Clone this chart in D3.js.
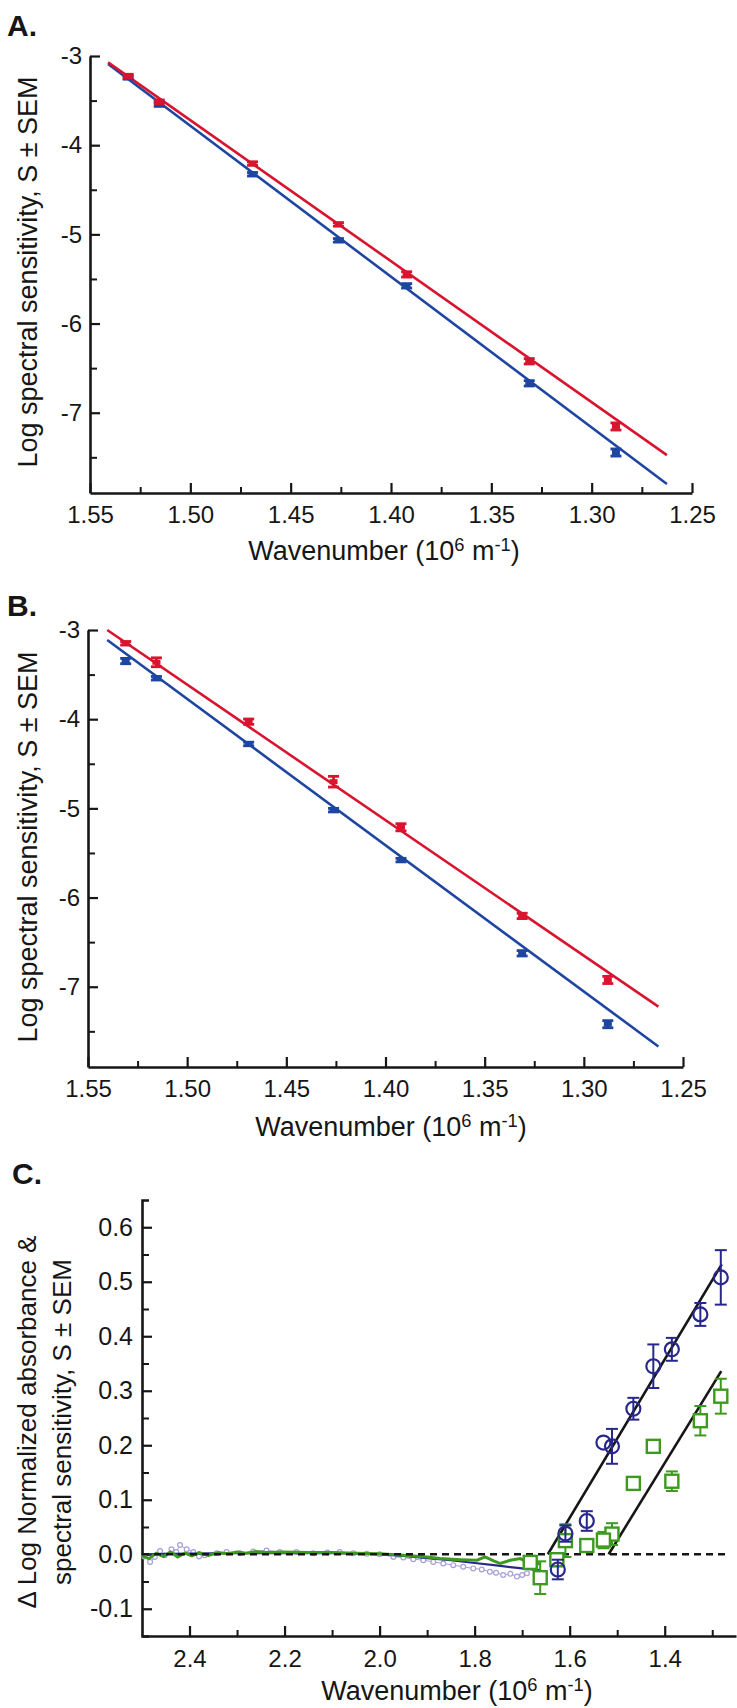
<!DOCTYPE html>
<html>
<head>
<meta charset="utf-8">
<script src="https://cdn.jsdelivr.net/npm/d3@7"></script>
<style>
  body { margin: 0; background: #fff; }
  svg { display: block; font-family: "Liberation Sans", Arial, sans-serif; }
</style>
</head>
<body>
<svg id="fig" width="737" height="1708"></svg>
<script>
// ---- panel A / B data (wavenumber in 10^6 m^-1, log sensitivity) ----
var wnAB = [1.531, 1.5155, 1.469, 1.4262, 1.3922, 1.3311, 1.2879];

var aRed     = [-3.225, -3.513, -4.206, -4.888, -5.449, -6.423, -7.154];
var aRedErr  = [0.02, 0.02, 0.02, 0.02, 0.03, 0.03, 0.04];
var aBlue    = [-3.24, -3.54, -4.326, -5.067, -5.577, -6.67, -7.446];
var aBlueErr = [0.02, 0.025, 0.02, 0.02, 0.025, 0.03, 0.04];
var aRedFit  = [[1.541, -3.071], [1.2625, -7.475]];
var aBlueFit = [[1.541, -3.09], [1.2625, -7.80]];

var bRed     = [-3.149, -3.362, -4.028, -4.701, -5.212, -6.206, -6.924];
var bRedErr  = [0.02, 0.05, 0.03, 0.06, 0.04, 0.03, 0.04];
var bBlue    = [-3.348, -3.541, -4.278, -5.02, -5.58, -6.625, -7.42];
var bBlueErr = [0.03, 0.02, 0.02, 0.02, 0.02, 0.03, 0.04];
var bRedFit  = [[1.5403, -3.0], [1.2624, -7.223]];
var bBlueFit = [[1.5403, -3.112], [1.2624, -7.67]];

var abMajor = [1.55, 1.50, 1.45, 1.40, 1.35, 1.30, 1.25];
var abMinor = [1.525, 1.475, 1.425, 1.375, 1.325, 1.275];
var abYMajor = [-3, -4, -5, -6, -7];
var abYMinor = [-3.5, -4.5, -5.5, -6.5, -7.5];

// ---- panel C data ----
var cCircWn  = [1.282, 1.325, 1.385, 1.424, 1.466, 1.529, 1.511, 1.564, 1.609, 1.625];
var cCirc    = [0.508, 0.440, 0.376, 0.345, 0.267, 0.205, 0.198, 0.061, 0.038, -0.028];
var cCircErr = [0.05, 0.021, 0.021, 0.04, 0.02, 0.0, 0.032, 0.018, 0.015, 0.018];

var cSqWn  = [1.282, 1.325, 1.385, 1.424, 1.466, 1.511, 1.529, 1.564, 1.609, 1.627, 1.662, 1.683];
var cSq    = [0.290, 0.245, 0.134, 0.198, 0.130, 0.037, 0.026, 0.016, 0.025, -0.010, -0.043, -0.015];
var cSqErr = [0.032, 0.027, 0.018, 0.01, 0.006, 0.02, 0.015, 0.01, 0.03, 0.012, 0.03, 0.012];

var cFit1 = [[1.646, 0.0], [1.280, 0.532]];
var cFit2 = [[1.518, 0.0], [1.281, 0.336]];
var cZero = [[2.5, 0], [1.27, 0]];

var cBlueLineWn = [2.5, 2.4, 2.3, 2.2, 2.1, 2.0, 1.95, 1.9, 1.85, 1.8, 1.75, 1.70, 1.662];
var cBlueLine   = [0.0, 0.001, 0.002, 0.002, 0.002, 0.0, -0.003, -0.007, -0.011, -0.016, -0.021, -0.026, -0.029];

var cGreenLineWn = [2.5, 2.485, 2.47, 2.455, 2.44, 2.425, 2.41, 2.395, 2.38, 2.36, 2.34, 2.32, 2.30, 2.28, 2.26, 2.24, 2.2, 2.15, 2.1, 2.05, 2.0, 1.95, 1.9, 1.873, 1.83, 1.795, 1.778, 1.76, 1.746, 1.725, 1.704, 1.69, 1.662];
var cGreenLine   = [-0.003, -0.008, 0.002, -0.004, 0.004, -0.005, 0.002, -0.003, 0.003, -0.002, 0.003, 0.001, 0.004, 0.002, 0.005, 0.003, 0.004, 0.003, 0.003, 0.002, 0.001, -0.002, -0.005, -0.008, -0.01, -0.011, -0.005, -0.012, -0.017, -0.011, -0.008, -0.014, -0.018];

var cPurpleWn = [2.495, 2.483, 2.473, 2.462, 2.452, 2.438, 2.428, 2.42, 2.406, 2.392, 2.38, 2.368, 2.343, 2.322, 2.294, 2.266, 2.238, 2.21, 2.175, 2.14, 2.11, 2.084, 2.055, 2.027, 2.0, 1.971, 1.95, 1.929, 1.908, 1.887, 1.866, 1.845, 1.824, 1.803, 1.785, 1.768, 1.755, 1.74, 1.725, 1.711, 1.70, 1.69];
var cPurple   = [-0.004, -0.014, -0.005, 0.006, -0.002, 0.009, 0.004, 0.017, 0.009, 0.004, -0.004, -0.002, 0.002, 0.004, 0.002, 0.005, 0.007, 0.004, 0.004, 0.002, 0.003, 0.004, 0.002, 0.001, 0.0, -0.005, -0.006, -0.009, -0.011, -0.014, -0.017, -0.02, -0.023, -0.026, -0.028, -0.032, -0.034, -0.038, -0.036, -0.041, -0.038, -0.035];

var cXMajor = [2.4, 2.2, 2.0, 1.8, 1.6, 1.4];
var cXMinor = [2.3, 2.1, 1.9, 1.7, 1.5, 1.3];
var cYMajor = [0.6, 0.5, 0.4, 0.3, 0.2, 0.1, 0.0, -0.1];
var cYMinor = [0.55, 0.45, 0.35, 0.25, 0.15, 0.05, -0.05];

var RED = "#d8142e", BLUE = "#1e46a0", INK = "#161616";
var NAVY = "#28288c", GREEN = "#3d9a1f", PURPLE = "#a99ed8";

var svg = d3.select("#fig");
svg.append("rect").attr("width", 737).attr("height", 1708).attr("fill", "#fff");

function styleAxis(g, fs) {
  g.selectAll("path.domain").attr("stroke", INK).attr("stroke-width", 2.6);
  g.selectAll(".tick line").attr("stroke", INK).attr("stroke-width", 2.2);
  g.selectAll(".tick text").attr("fill", INK).attr("font-size", fs);
}

function wavLabel(g, x, y, fs) {
  var t = g.append("text").attr("x", x).attr("y", y).attr("text-anchor", "middle")
    .attr("font-size", fs).attr("fill", INK);
  t.append("tspan").text("Wavenumber (10");
  t.append("tspan").attr("dy", -9).attr("font-size", fs * 0.68).text("6");
  t.append("tspan").attr("dy", 9).text(" m");
  t.append("tspan").attr("dy", -9).attr("font-size", fs * 0.68).text("-1");
  t.append("tspan").attr("dy", 9).text(")");
}

function errBars(g, pts, color, cap, sw) {
  var s = g.selectAll(null).data(pts).enter().append("g");
  s.append("line").attr("x1", d => d.x).attr("x2", d => d.x)
    .attr("y1", d => d.y0).attr("y2", d => d.y1)
    .attr("stroke", color).attr("stroke-width", sw);
  s.append("line").attr("x1", d => d.x - cap).attr("x2", d => d.x + cap)
    .attr("y1", d => d.y0).attr("y2", d => d.y0).attr("stroke", color).attr("stroke-width", sw);
  s.append("line").attr("x1", d => d.x - cap).attr("x2", d => d.x + cap)
    .attr("y1", d => d.y1).attr("y2", d => d.y1).attr("stroke", color).attr("stroke-width", sw);
}

function drawAB(cfg) {
  var g = svg.append("g");
  var x = d3.scaleLinear().domain([1.55, 1.25]).range([cfg.x0, cfg.x1]);
  var y = d3.scaleLinear().domain([-7.9, -3]).range([cfg.yBot, cfg.yTop]);

  // axes
  var gx = g.append("g").attr("transform", "translate(0," + cfg.yBot + ")")
    .call(d3.axisBottom(x).tickValues(abMajor).tickSizeInner(-10).tickSizeOuter(0)
      .tickPadding(13).tickFormat(d => d.toFixed(2)));
  g.append("g").attr("transform", "translate(0," + cfg.yBot + ")")
    .call(d3.axisBottom(x).tickValues(abMinor).tickSizeInner(-6).tickSizeOuter(0).tickFormat(""))
    .call(a => a.select(".domain").remove())
    .selectAll("line").attr("stroke", INK).attr("stroke-width", 2);
  var gy = g.append("g").attr("transform", "translate(" + cfg.x0 + ",0)")
    .call(d3.axisLeft(y).tickValues(abYMajor).tickSizeInner(-10).tickSizeOuter(0)
      .tickPadding(8).tickFormat(d => d.toFixed(0)));
  g.append("g").attr("transform", "translate(" + cfg.x0 + ",0)")
    .call(d3.axisLeft(y).tickValues(abYMinor).tickSizeInner(-7).tickSizeOuter(0).tickFormat(""))
    .call(a => a.select(".domain").remove())
    .selectAll("line").attr("stroke", INK).attr("stroke-width", 2);
  styleAxis(gx, 24);
  styleAxis(gy, 24);

  // fitted lines
  var line = d3.line().x(d => x(d[0])).y(d => y(d[1]));
  g.append("path").attr("d", line(cfg.blueFit)).attr("fill", "none")
    .attr("stroke", BLUE).attr("stroke-width", 2.6);
  g.append("path").attr("d", line(cfg.redFit)).attr("fill", "none")
    .attr("stroke", RED).attr("stroke-width", 2.6);

  // points with SEM
  [[cfg.blue, cfg.blueErr, BLUE], [cfg.red, cfg.redErr, RED]].forEach(function (s) {
    var pts = wnAB.map((w, i) => ({ x: x(w), y: y(s[0][i]), y0: y(s[0][i] + s[1][i]), y1: y(s[0][i] - s[1][i]) }));
    errBars(g, pts, s[2], 5.5, 2.8);
    g.selectAll(null).data(pts).enter().append("rect")
      .attr("x", d => d.x - 4).attr("y", d => d.y - 2.5).attr("width", 8).attr("height", 5)
      .attr("fill", s[2]);
  });

  // labels
  g.append("text").attr("x", 7).attr("y", cfg.letterY).attr("font-size", 30)
    .attr("font-weight", "bold").attr("fill", INK).text(cfg.letter);
  g.append("text").attr("transform", "translate(" + 37 + "," + cfg.ylabY + ") rotate(-90)")
    .attr("text-anchor", "middle").attr("font-size", 27).attr("fill", INK)
    .text("Log spectral sensitivity, S \u00b1 SEM");
  wavLabel(g, cfg.xlabX, cfg.xlabY, 27);
}

drawAB({ letter: "A.", letterY: 36, x0: 90, x1: 692, yTop: 56, yBot: 493,
  red: aRed, redErr: aRedErr, blue: aBlue, blueErr: aBlueErr,
  redFit: aRedFit, blueFit: aBlueFit, ylabY: 272, xlabX: 384, xlabY: 560 });
drawAB({ letter: "B.", letterY: 616, x0: 88, x1: 683, yTop: 630, yBot: 1067,
  red: bRed, redErr: bRedErr, blue: bBlue, blueErr: bBlueErr,
  redFit: bRedFit, blueFit: bBlueFit, ylabY: 847, xlabX: 391, xlabY: 1136 });

// ---- panel C ----
(function () {
  var g = svg.append("g");
  var x = d3.scaleLinear().domain([2.5, 1.25]).range([142, 736]);
  var y = d3.scaleLinear().domain([-0.15, 0.65]).range([1636, 1200]);

  var gx = g.append("g").attr("transform", "translate(0,1636)")
    .call(d3.axisBottom(x).tickValues(cXMajor).tickSizeInner(-10).tickSizeOuter(0)
      .tickPadding(14).tickFormat(d => d.toFixed(1)));
  g.append("g").attr("transform", "translate(0,1636)")
    .call(d3.axisBottom(x).tickValues(cXMinor).tickSizeInner(-6).tickSizeOuter(0).tickFormat(""))
    .call(a => a.select(".domain").remove())
    .selectAll("line").attr("stroke", INK).attr("stroke-width", 2);
  var gy = g.append("g").attr("transform", "translate(142,0)")
    .call(d3.axisLeft(y).tickValues(cYMajor).tickSizeInner(-10).tickSizeOuter(-7)
      .tickPadding(9).tickFormat(d => d.toFixed(1)));
  g.append("g").attr("transform", "translate(142,0)")
    .call(d3.axisLeft(y).tickValues(cYMinor).tickSizeInner(-7).tickSizeOuter(0).tickFormat(""))
    .call(a => a.select(".domain").remove())
    .selectAll("line").attr("stroke", INK).attr("stroke-width", 2);
  styleAxis(gx, 24);
  styleAxis(gy, 25);

  var line = d3.line().x(d => x(d[0])).y(d => y(d[1]));

  // difference spectra near zero
  g.append("path").attr("d", line(cPurpleWn.map((w, i) => [w, cPurple[i]])))
    .attr("fill", "none").attr("stroke", PURPLE).attr("stroke-width", 1);
  g.selectAll(null).data(cPurpleWn.map((w, i) => [w, cPurple[i]])).enter().append("circle")
    .attr("cx", d => x(d[0])).attr("cy", d => y(d[1])).attr("r", 2.4)
    .attr("fill", "#fff").attr("stroke", PURPLE).attr("stroke-width", 1.2);
  g.append("path").attr("d", line(cBlueLineWn.map((w, i) => [w, cBlueLine[i]])))
    .attr("fill", "none").attr("stroke", NAVY).attr("stroke-width", 2.2);
  g.append("path").attr("d", line(cGreenLineWn.map((w, i) => [w, cGreenLine[i]])))
    .attr("fill", "none").attr("stroke", GREEN).attr("stroke-width", 3);

  // zero reference and fits
  g.append("path").attr("d", line(cZero)).attr("fill", "none")
    .attr("stroke", INK).attr("stroke-width", 2.6).attr("stroke-dasharray", "7,5");
  g.append("path").attr("d", line(cFit1)).attr("fill", "none").attr("stroke", INK).attr("stroke-width", 2.6);
  g.append("path").attr("d", line(cFit2)).attr("fill", "none").attr("stroke", INK).attr("stroke-width", 2.6);

  // green squares
  var sq = cSqWn.map((w, i) => ({ x: x(w), y: y(cSq[i]), y0: y(cSq[i] + cSqErr[i]), y1: y(cSq[i] - cSqErr[i]) }));
  errBars(g, sq, GREEN, 6, 2);
  g.selectAll(null).data(sq).enter().append("rect")
    .attr("x", d => d.x - 6.5).attr("y", d => d.y - 6.5).attr("width", 13).attr("height", 13)
    .attr("fill", "#fff").attr("stroke", GREEN).attr("stroke-width", 2.4);

  // blue circles
  var ci = cCircWn.map((w, i) => ({ x: x(w), y: y(cCirc[i]), y0: y(cCirc[i] + cCircErr[i]), y1: y(cCirc[i] - cCircErr[i]) }));
  errBars(g, ci.filter(d => d.y1 - d.y0 > 1), NAVY, 6, 2);
  g.selectAll(null).data(ci).enter().append("circle")
    .attr("cx", d => d.x).attr("cy", d => d.y).attr("r", 7)
    .attr("fill", "none").attr("stroke", NAVY).attr("stroke-width", 2.2);

  // labels
  g.append("text").attr("x", 12).attr("y", 1184).attr("font-size", 30)
    .attr("font-weight", "bold").attr("fill", INK).text("C.");
  g.append("text").attr("transform", "translate(36,1422) rotate(-90)")
    .attr("text-anchor", "middle").attr("font-size", 26).attr("fill", INK)
    .text("\u0394 Log Normalized absorbance &");
  g.append("text").attr("transform", "translate(71,1422) rotate(-90)")
    .attr("text-anchor", "middle").attr("font-size", 26).attr("fill", INK)
    .text("spectral sensitivity, S \u00b1 SEM");
  wavLabel(g, 457, 1700, 27);
})();
</script>
</body>
</html>
